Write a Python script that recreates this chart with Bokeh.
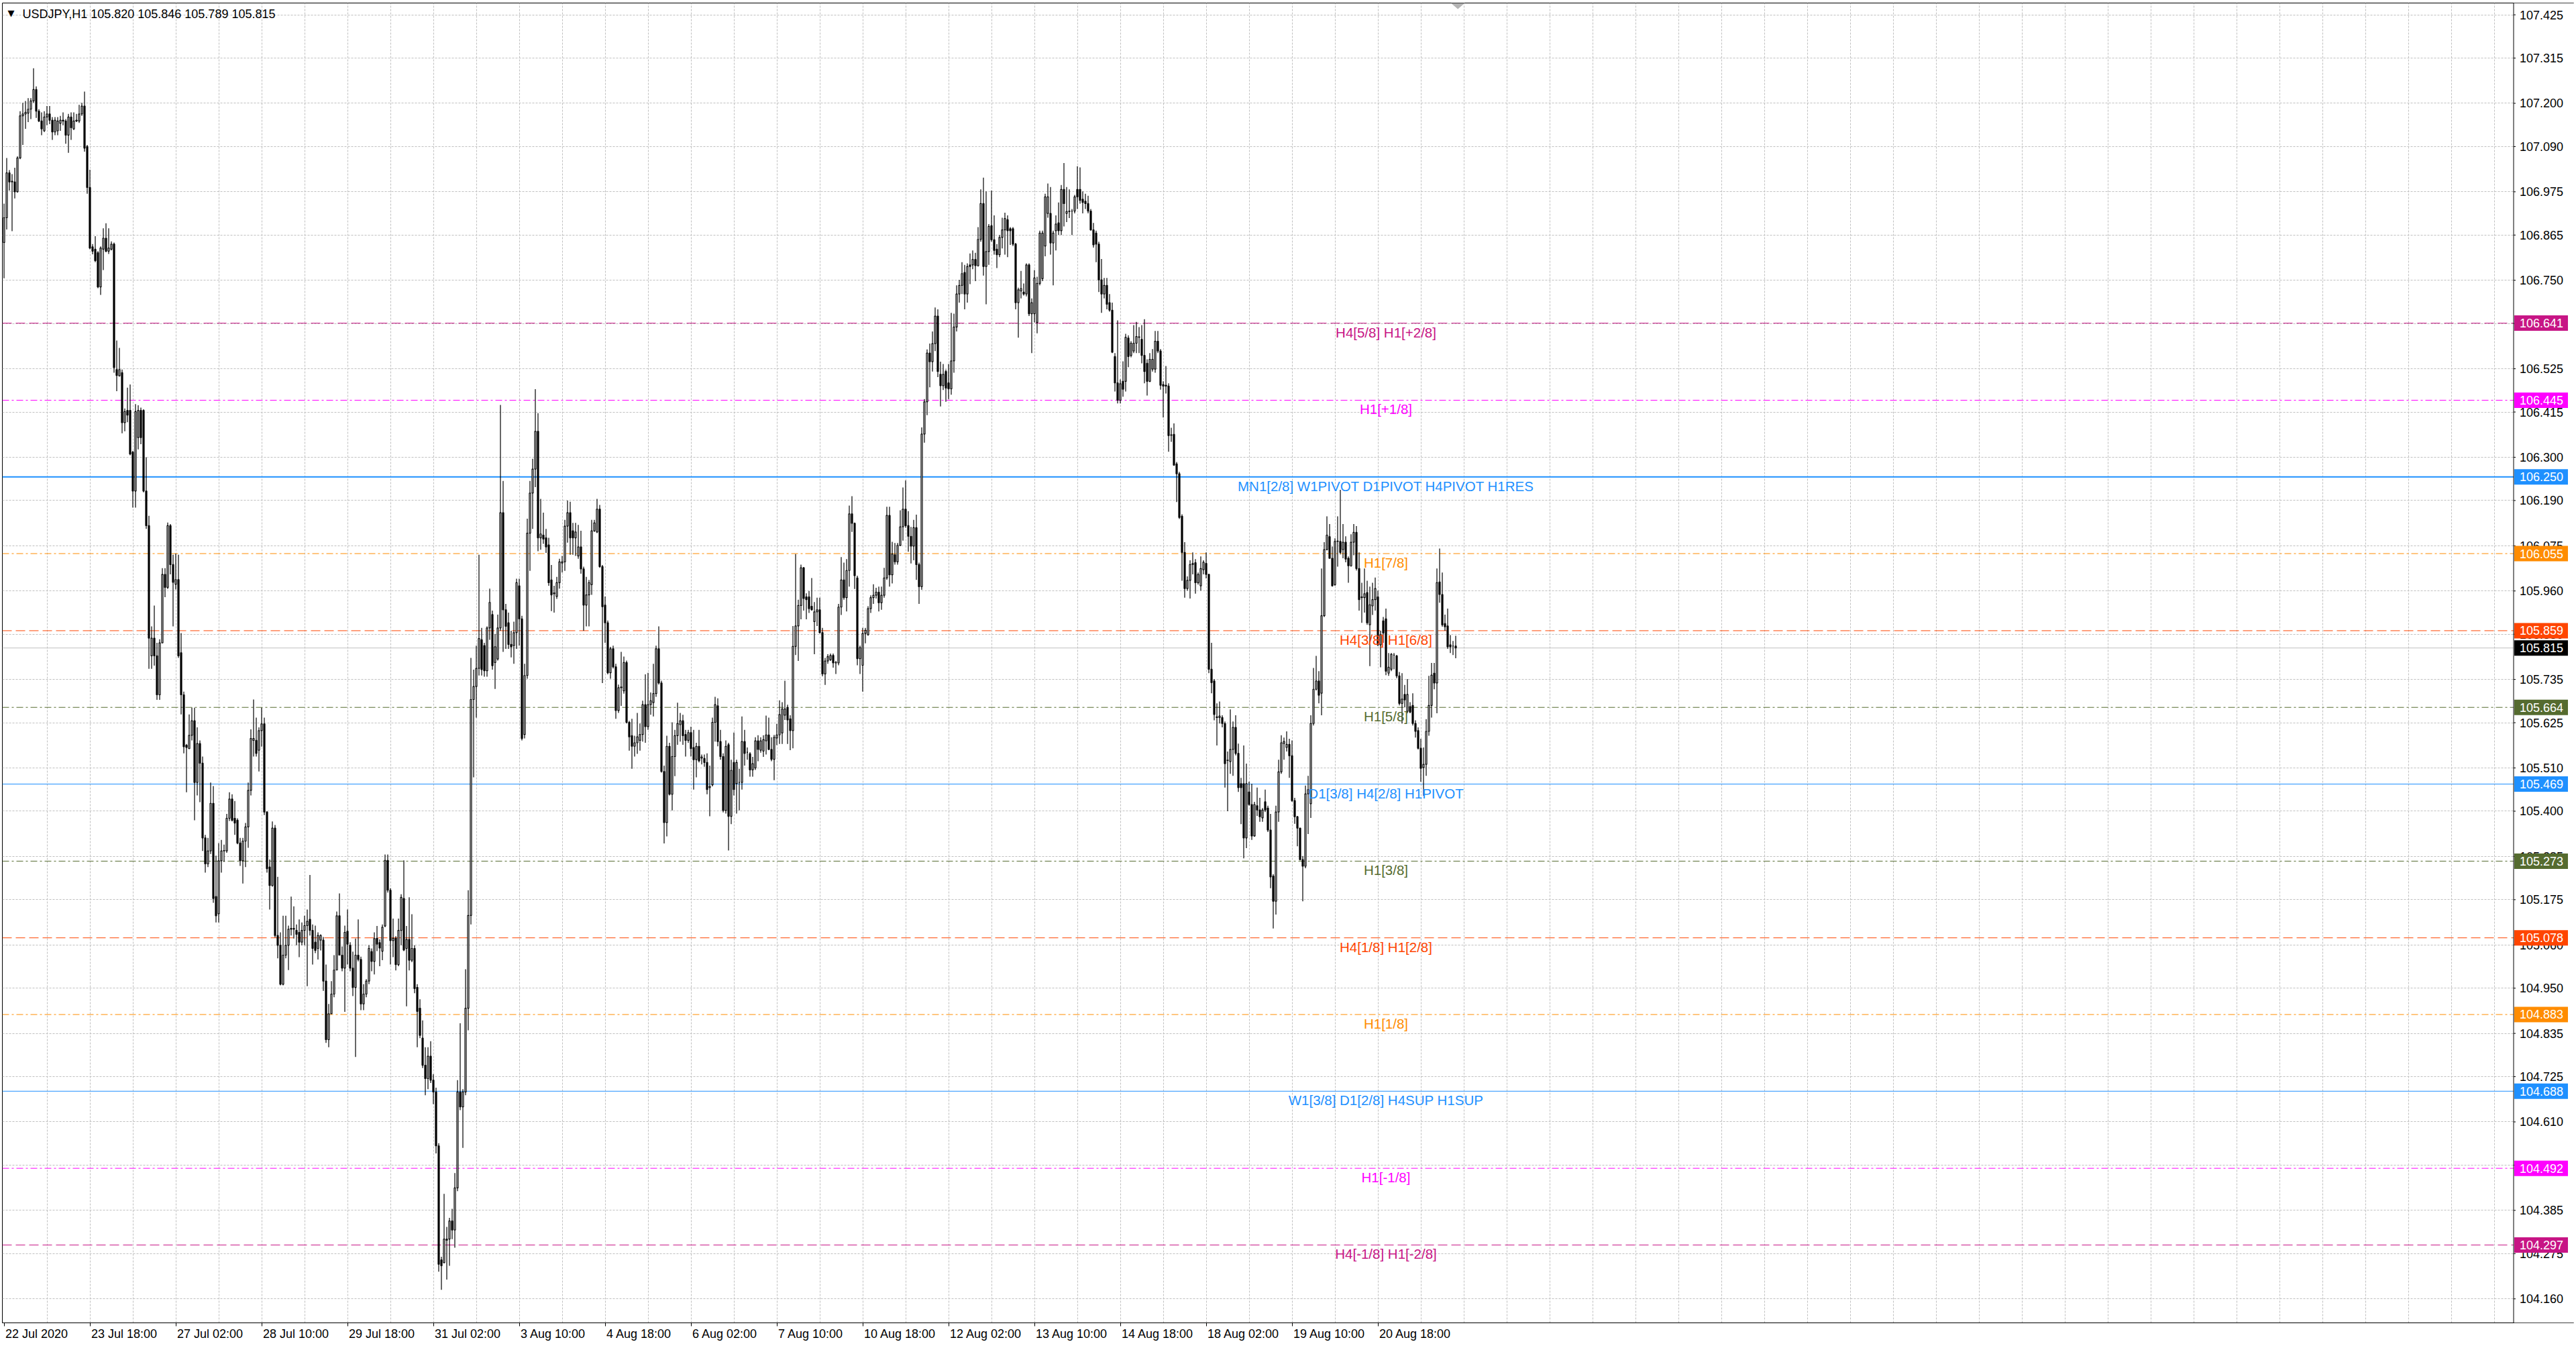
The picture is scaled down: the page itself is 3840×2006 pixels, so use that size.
from bokeh.plotting import figure
from bokeh.models import Range1d, FixedTicker, Span, LinearAxis, ColumnDataSource
from bokeh.core.properties import value
from bokeh.embed import file_html
from bokeh.resources import INLINE

# USDJPY H1, 22 Jul 2020 10:00 .. 21 Aug 2020 23:00 (one value per hourly bar)
opens = [
    106.846, 106.909, 107.023, 107.000, 107.000, 106.975, 107.061, 107.168, 107.173, 107.175,
    107.185, 107.206, 107.235, 107.180, 107.155, 107.130, 107.165, 107.173, 107.157, 107.127,
    107.130, 107.149, 107.157, 107.155, 107.119, 107.165, 107.135, 107.155, 107.155, 107.173,
    107.193, 107.090, 106.986, 106.835, 106.829, 106.820, 106.733, 106.829, 106.857, 106.824,
    106.829, 106.842, 106.523, 106.507, 106.515, 106.388, 106.419, 106.419, 106.313, 106.214,
    106.350, 106.419, 106.419, 106.214, 106.126, 105.795, 105.840, 105.795, 105.696, 105.828,
    106.002, 105.969, 106.126, 106.027, 105.977, 105.989, 105.803, 105.696, 105.568, 105.559,
    105.593, 105.630, 105.473, 105.572, 105.522, 105.332, 105.266, 105.299, 105.420, 105.183,
    105.139, 105.274, 105.299, 105.299, 105.382, 105.431, 105.382, 105.377, 105.319, 105.274,
    105.324, 105.360, 105.453, 105.580, 105.580, 105.555, 105.605, 105.622, 105.398, 105.258,
    105.211, 105.357, 105.084, 105.059, 104.960, 105.034, 105.059, 105.100, 105.102, 105.097,
    105.092, 105.067, 105.097, 105.109, 105.125, 105.097, 105.067, 105.051, 105.072, 105.072,
    104.968, 104.819, 104.885, 104.935, 104.996, 105.134, 105.034, 105.001, 105.095, 105.059,
    105.001, 104.952, 105.034, 105.023, 104.910, 104.935, 104.968, 105.043, 105.018,
    105.077, 105.066, 105.044, 105.108, 105.275, 105.199, 105.071, 105.077, 105.010, 105.097,
    105.178, 105.051, 105.074, 105.021, 105.051, 104.952, 104.899, 104.823, 104.754, 104.720,
    104.777, 104.716, 104.686, 104.549, 104.259, 104.252, 104.312, 104.312, 104.358, 104.335,
    104.442, 104.686, 104.648, 104.686, 104.899, 105.135, 105.684, 105.717, 105.763, 105.836,
    105.821, 105.757, 105.866, 105.900, 105.778, 105.787, 105.866, 106.159, 105.912, 105.879,
    105.824, 105.821, 105.854, 105.973, 105.889, 105.595, 105.745, 106.107, 106.209, 106.270,
    106.366, 106.095, 106.102, 106.095, 106.077, 105.988, 105.955, 105.946, 105.981, 106.031,
    106.034, 106.125, 106.159, 106.113, 106.095, 106.049, 106.072, 106.016, 105.924, 105.950,
    105.976, 106.113, 106.110, 106.168, 106.022, 105.924, 105.879, 105.752, 105.813, 105.767,
    105.656, 105.714, 105.706, 105.778, 105.626, 105.592, 105.565, 105.574, 105.580, 105.595,
    105.671, 105.615, 105.671, 105.676, 105.699, 105.813, 105.726, 105.501, 105.371, 105.565,
    105.443, 105.539, 105.592, 105.620, 105.630, 105.595, 105.580, 105.600, 105.562, 105.531,
    105.565, 105.535, 105.534, 105.524, 105.460, 105.467, 105.626, 105.668, 105.577, 105.539,
    105.402, 105.569, 105.387, 105.524, 105.470, 105.473, 105.473, 105.577, 105.550, 105.546,
    105.505, 105.510, 105.579, 105.555, 105.553, 105.579, 105.594, 105.557, 105.532, 105.586,
    105.594, 105.599, 105.644, 105.664, 105.635, 105.605, 105.819, 105.871, 105.923, 106.019,
    105.945, 105.945, 105.921, 105.882, 105.907, 105.912, 105.854, 105.749, 105.782, 105.785,
    105.796, 105.777, 105.777, 105.919, 105.988, 105.943, 106.012, 106.156, 106.132, 105.993,
    105.788, 105.771, 105.852, 105.849, 105.915, 105.943, 105.949, 105.957, 105.930, 105.949,
    105.993, 106.152, 106.001, 106.052, 106.034, 106.076, 106.123, 106.168, 106.126, 106.099,
    106.074, 106.121, 106.027, 105.971, 106.359, 106.441, 106.565, 106.543, 106.589, 106.659,
    106.511, 106.482, 106.518, 106.489, 106.474, 106.545, 106.631, 106.715, 106.737, 106.770,
    106.715, 106.789, 106.789, 106.803, 106.787, 106.854, 106.945, 106.785, 106.823, 106.889,
    106.853, 106.829, 106.815, 106.859, 106.878, 106.904, 106.881, 106.881, 106.842, 106.693,
    106.723, 106.720, 106.715, 106.789, 106.665, 106.665, 106.643, 106.742, 106.754, 106.837,
    106.920, 106.920, 106.845, 106.876, 106.896, 106.876, 106.981, 106.920, 106.926, 106.926,
    106.926, 106.981, 106.981, 106.956, 106.951, 106.945, 106.926, 106.878, 106.870, 106.842,
    106.751, 106.715, 106.737, 106.693, 106.674, 106.556, 106.489, 106.445, 106.493,
    106.493, 106.603, 106.559, 106.570, 106.590, 106.606, 106.600, 106.559, 106.539, 106.493,
    106.524, 106.524, 106.595, 106.570, 106.485, 106.481, 106.481, 106.357, 106.358, 106.283,
    106.258, 106.150, 106.058, 105.966, 105.987, 106.027, 106.032, 105.981, 105.973, 106.014,
    106.030, 106.002, 105.761, 105.731, 105.640, 105.638, 105.638, 105.623, 105.529, 105.526,
    105.557, 105.613, 105.547, 105.470, 105.470, 105.332, 105.449, 105.417, 105.337, 105.414,
    105.403, 105.383, 105.424, 105.408, 105.352, 105.235, 105.171, 105.398, 105.500, 105.572,
    105.562, 105.570, 105.541, 105.427, 105.386, 105.357, 105.277, 105.260, 105.444, 105.419,
    105.623, 105.710, 105.731, 105.700, 105.897, 106.065, 106.098, 106.043, 105.976, 106.086,
    106.086, 106.065, 106.084, 106.043, 106.024, 106.084, 106.109, 106.017, 105.945, 105.943,
    105.956, 105.874, 105.922, 105.938, 105.945, 105.823, 105.884, 105.889, 105.751, 105.761,
    105.797, 105.795, 105.744, 105.674, 105.697, 105.654, 105.666, 105.669, 105.623, 105.605,
    105.560, 105.511, 105.519, 105.603, 105.669, 105.751, 105.726, 105.983, 105.951, 105.877,
    105.871, 105.823, 105.820, 105.820,
]
highs = [
    106.945, 107.061, 107.030, 107.020, 107.036, 107.065, 107.180, 107.201, 107.206, 107.213,
    107.213, 107.289, 107.243, 107.185, 107.177, 107.180, 107.193, 107.193, 107.165, 107.165,
    107.165, 107.168, 107.177, 107.160, 107.173, 107.177, 107.177, 107.173, 107.196, 107.201,
    107.230, 107.094, 107.031, 106.842, 106.862, 106.824, 106.836, 106.882, 106.895, 106.882,
    106.849, 106.846, 106.597, 106.578, 106.523, 106.424, 106.477, 106.485, 106.316, 106.435,
    106.432, 106.426, 106.422, 106.300, 106.151, 105.870, 105.923, 105.828, 105.837, 106.018,
    106.018, 106.134, 106.130, 106.052, 106.055, 106.052, 105.853, 105.704, 105.571, 105.646,
    105.663, 105.663, 105.613, 105.580, 105.539, 105.340, 105.332, 105.473, 105.464, 105.287,
    105.319, 105.327, 105.315, 105.393, 105.448, 105.443, 105.426, 105.382, 105.332, 105.332,
    105.370, 105.473, 105.608, 105.684, 105.638, 105.613, 105.663, 105.638, 105.400, 105.277,
    105.374, 105.365, 105.233, 105.092, 105.134, 105.134, 105.109, 105.183, 105.158, 105.112,
    105.125, 105.117, 105.134, 105.150, 105.238, 105.112, 105.109, 105.092, 105.087, 105.080,
    105.010, 104.910, 104.968, 105.034, 105.145, 105.191, 105.056, 105.109, 105.150, 105.067,
    105.043, 105.076, 105.125, 105.030, 104.960, 104.973, 105.059, 105.051, 105.092,
    105.108, 105.074, 105.112, 105.290, 105.290, 105.204, 105.127, 105.082, 105.127, 105.189,
    105.275, 105.108, 105.181, 105.138, 105.059, 104.960, 104.922, 104.868, 104.800, 104.800,
    104.815, 104.731, 104.697, 104.556, 104.267, 104.427, 104.343, 104.366, 104.389, 104.480,
    104.716, 104.861, 104.693, 104.998, 105.199, 105.790, 105.760, 105.821, 106.052, 105.866,
    105.828, 105.870, 105.966, 105.910, 105.851, 105.900, 106.433, 106.240, 105.927, 105.905,
    105.859, 105.882, 105.991, 105.991, 105.897, 105.775, 106.144, 106.240, 106.296, 106.473,
    106.412, 106.194, 106.159, 106.118, 106.095, 106.026, 105.973, 105.996, 106.042, 106.049,
    106.141, 106.190, 106.187, 106.133, 106.133, 106.128, 106.113, 106.022, 105.996, 105.988,
    106.141, 106.141, 106.194, 106.179, 106.026, 105.946, 105.885, 105.818, 105.821, 105.775,
    105.722, 105.805, 105.793, 105.783, 105.630, 105.635, 105.592, 105.650, 105.623, 105.681,
    105.748, 105.752, 105.702, 105.775, 105.821, 105.870, 105.732, 105.516, 105.592, 105.574,
    105.626, 105.607, 105.676, 105.650, 105.645, 105.607, 105.607, 105.615, 105.607, 105.574,
    105.607, 105.544, 105.544, 105.547, 105.516, 105.638, 105.691, 105.687, 105.607, 105.547,
    105.580, 105.574, 105.531, 105.600, 105.531, 105.508, 105.641, 105.607, 105.562, 105.550,
    105.538, 105.588, 105.593, 105.588, 105.593, 105.643, 105.638, 105.588, 105.594, 105.622,
    105.682, 105.677, 105.732, 105.671, 105.644, 105.871, 106.054, 105.938, 106.027, 106.021,
    105.954, 105.960, 105.993, 105.932, 105.943, 105.943, 105.866, 105.790, 105.799, 105.801,
    105.801, 105.782, 105.927, 106.046, 106.032, 106.041, 106.177, 106.201, 106.134, 105.999,
    105.821, 105.866, 105.866, 105.921, 105.949, 105.977, 105.968, 105.971, 105.971, 106.019,
    106.174, 106.174, 106.085, 106.082, 106.082, 106.165, 106.223, 106.241, 106.163, 106.123,
    106.141, 106.154, 106.032, 106.376, 106.448, 106.574, 106.589, 106.620, 106.681, 106.676,
    106.543, 106.537, 106.523, 106.537, 106.667, 106.665, 106.737, 106.751, 106.796, 106.789,
    106.793, 106.818, 106.826, 106.820, 106.885, 106.981, 107.011, 106.976, 106.893, 106.978,
    106.915, 106.842, 106.865, 106.909, 106.922, 106.915, 106.885, 106.885, 106.845, 106.731,
    106.774, 106.742, 106.793, 106.793, 106.704, 106.776, 106.759, 106.876, 106.876, 106.970,
    106.996, 106.987, 106.876, 106.915, 106.948, 106.992, 107.048, 106.987, 106.981, 106.931,
    106.967, 107.040, 107.037, 106.976, 106.970, 106.965, 106.931, 106.896, 106.876, 106.848,
    106.804, 106.756, 106.756, 106.715, 106.693, 106.565, 106.648, 106.498, 106.544,
    106.614, 106.610, 106.595, 106.636, 106.644, 106.631, 106.636, 106.651, 106.549, 106.565,
    106.575, 106.621, 106.621, 106.575, 106.493, 106.532, 106.488, 106.375, 106.386, 106.288,
    106.263, 106.155, 106.084, 105.997, 106.038, 106.058, 106.041, 106.007, 106.048, 106.038,
    106.058, 106.004, 105.828, 105.736, 105.674, 105.679, 105.644, 105.628, 105.552, 105.659,
    105.628, 105.644, 105.572, 105.485, 105.567, 105.521, 105.475, 105.470, 105.424, 105.460,
    105.434, 105.408, 105.455, 105.414, 105.393, 105.240, 105.414, 105.531, 105.593, 105.587,
    105.603, 105.584, 105.580, 105.434, 105.388, 105.357, 105.286, 105.465, 105.490, 105.644,
    105.764, 105.795, 105.756, 106.017, 106.084, 106.150, 106.130, 106.073, 106.094, 106.150,
    106.217, 106.130, 106.099, 106.048, 106.104, 106.130, 106.125, 106.058, 105.981, 106.017,
    105.986, 105.971, 105.981, 105.994, 105.961, 105.859, 105.894, 105.915, 105.802, 105.802,
    105.802, 105.797, 105.754, 105.751, 105.721, 105.736, 105.677, 105.700, 105.631, 105.613,
    105.584, 105.562, 105.634, 105.744, 105.777, 105.777, 106.017, 106.068, 106.007, 105.900,
    105.915, 105.848, 105.833, 105.846,
]
lows = [
    106.755, 106.879, 106.978, 106.875, 106.958, 106.973, 107.058, 107.094, 107.135, 107.152,
    107.160, 107.201, 107.163, 107.152, 107.119, 107.127, 107.144, 107.147, 107.107, 107.119,
    107.119, 107.130, 107.144, 107.097, 107.074, 107.107, 107.132, 107.152, 107.150, 107.168,
    107.077, 106.970, 106.829, 106.816, 106.796, 106.730, 106.713, 106.776, 106.821, 106.817,
    106.826, 106.515, 106.468, 106.505, 106.361, 106.366, 106.389, 106.305, 106.172, 106.172,
    106.320, 106.333, 106.211, 106.118, 105.762, 105.762, 105.770, 105.683, 105.683, 105.828,
    105.944, 105.965, 106.002, 105.870, 105.964, 105.790, 105.646, 105.547, 105.448, 105.558,
    105.580, 105.377, 105.440, 105.423, 105.299, 105.244, 105.258, 105.291, 105.167, 105.117,
    105.117, 105.244, 105.271, 105.294, 105.375, 105.374, 105.340, 105.316, 105.261, 105.216,
    105.258, 105.307, 105.440, 105.539, 105.539, 105.501, 105.564, 105.390, 105.244, 105.150,
    105.208, 105.079, 105.026, 104.957, 104.957, 105.026, 104.996, 105.084, 105.076, 105.059,
    105.029, 105.059, 105.059, 104.955, 105.084, 105.010, 105.039, 105.023, 105.046, 104.943,
    104.811, 104.800, 104.885, 104.927, 104.996, 105.034, 104.993, 104.890, 105.010, 104.993,
    104.930, 104.775, 105.018, 104.894, 104.894, 104.927, 104.960, 104.993, 104.985,
    105.044, 105.006, 105.021, 105.105, 105.193, 105.010, 105.029, 104.995, 105.006, 105.059,
    105.044, 104.904, 104.995, 105.016, 104.937, 104.800, 104.823, 104.747, 104.678, 104.693,
    104.709, 104.655, 104.530, 104.229, 104.183, 104.251, 104.209, 104.244, 104.312, 104.290,
    104.434, 104.640, 104.544, 104.678, 104.843, 105.112, 105.486, 105.638, 105.745, 105.745,
    105.742, 105.742, 105.836, 105.760, 105.711, 105.783, 105.859, 105.805, 105.813, 105.813,
    105.791, 105.775, 105.813, 105.821, 105.580, 105.585, 105.737, 106.011, 106.118, 106.224,
    106.061, 106.065, 106.080, 106.057, 105.973, 105.909, 105.905, 105.940, 105.966, 106.007,
    106.011, 106.083, 106.052, 106.052, 106.049, 106.042, 106.004, 105.859, 105.870, 105.870,
    105.950, 106.110, 106.107, 106.019, 105.726, 105.828, 105.748, 105.737, 105.763, 105.635,
    105.650, 105.668, 105.699, 105.623, 105.554, 105.508, 105.539, 105.546, 105.554, 105.577,
    105.574, 105.607, 105.645, 105.641, 105.691, 105.722, 105.498, 105.318, 105.336, 105.440,
    105.402, 105.489, 105.569, 105.577, 105.569, 105.539, 105.574, 105.539, 105.455, 105.486,
    105.524, 105.519, 105.513, 105.443, 105.387, 105.463, 105.577, 105.565, 105.531, 105.397,
    105.394, 105.300, 105.367, 105.440, 105.394, 105.402, 105.455, 105.516, 105.531, 105.488,
    105.488, 105.505, 105.527, 105.549, 105.538, 105.544, 105.555, 105.527, 105.479, 105.568,
    105.571, 105.571, 105.632, 105.571, 105.555, 105.560, 105.797, 105.782, 105.888, 105.910,
    105.888, 105.904, 105.910, 105.799, 105.871, 105.852, 105.743, 105.721, 105.775, 105.782,
    105.765, 105.749, 105.771, 105.899, 105.938, 105.908, 105.971, 106.110, 105.965, 105.771,
    105.749, 105.704, 105.827, 105.846, 105.904, 105.927, 105.941, 105.908, 105.912, 105.943,
    105.988, 105.971, 105.979, 106.027, 106.027, 106.074, 106.088, 106.121, 106.060, 106.030,
    106.038, 105.988, 105.927, 105.963, 106.337, 106.407, 106.478, 106.518, 106.570, 106.504,
    106.429, 106.471, 106.441, 106.448, 106.459, 106.515, 106.620, 106.693, 106.715, 106.676,
    106.693, 106.740, 106.778, 106.748, 106.785, 106.848, 106.762, 106.689, 106.789, 106.848,
    106.815, 106.781, 106.809, 106.831, 106.815, 106.809, 106.840, 106.837, 106.676, 106.604,
    106.704, 106.711, 106.709, 106.659, 106.565, 106.643, 106.615, 106.737, 106.748, 106.811,
    106.909, 106.815, 106.737, 106.826, 106.865, 106.865, 106.887, 106.898, 106.908, 106.865,
    106.920, 106.931, 106.945, 106.920, 106.931, 106.920, 106.876, 106.833, 106.796, 106.720,
    106.667, 106.704, 106.676, 106.670, 106.565, 106.467, 106.437, 106.437, 106.454,
    106.467, 106.529, 106.554, 106.565, 106.565, 106.565, 106.539, 106.488, 106.457, 106.491,
    106.518, 106.515, 106.565, 106.472, 106.401, 106.462, 106.314, 106.339, 106.278, 106.186,
    106.143, 105.986, 105.943, 105.961, 105.941, 106.002, 105.953, 105.976, 105.961, 106.002,
    105.992, 105.751, 105.700, 105.631, 105.567, 105.623, 105.613, 105.460, 105.400, 105.495,
    105.490, 105.542, 105.449, 105.367, 105.280, 105.306, 105.414, 105.327, 105.335, 105.388,
    105.373, 105.373, 105.398, 105.347, 105.204, 105.102, 105.137, 105.373, 105.495, 105.531,
    105.552, 105.485, 105.424, 105.368, 105.311, 105.275, 105.171, 105.255, 105.342, 105.383,
    105.618, 105.707, 105.674, 105.644, 105.894, 106.063, 106.043, 105.971, 105.973, 106.022,
    106.053, 106.043, 106.033, 105.981, 106.022, 106.051, 106.012, 105.910, 105.879, 105.905,
    105.874, 105.769, 105.899, 105.910, 105.820, 105.766, 105.828, 105.746, 105.744, 105.756,
    105.761, 105.738, 105.669, 105.623, 105.664, 105.649, 105.649, 105.618, 105.587, 105.557,
    105.475, 105.439, 105.490, 105.592, 105.638, 105.710, 105.649, 105.930, 105.869, 105.859,
    105.813, 105.802, 105.797, 105.789,
]
closes = [
    106.909, 107.023, 107.000, 107.002, 106.975, 107.061, 107.168, 107.173, 107.177, 107.185,
    107.206, 107.235, 107.180, 107.155, 107.135, 107.165, 107.173, 107.157, 107.127, 107.157,
    107.155, 107.157, 107.155, 107.119, 107.165, 107.138, 107.155, 107.157, 107.173, 107.193,
    107.086, 106.986, 106.832, 106.824, 106.800, 106.733, 106.832, 106.857, 106.824, 106.832,
    106.842, 106.528, 106.508, 106.523, 106.388, 106.416, 106.407, 106.308, 106.214, 106.416,
    106.419, 106.350, 106.214, 106.126, 105.840, 105.840, 105.795, 105.696, 105.828, 106.002,
    105.969, 106.126, 106.027, 105.982, 105.989, 105.795, 105.696, 105.564, 105.562, 105.593,
    105.630, 105.473, 105.572, 105.522, 105.332, 105.266, 105.299, 105.420, 105.178, 105.134,
    105.274, 105.299, 105.300, 105.382, 105.431, 105.377, 105.370, 105.319, 105.274, 105.324,
    105.360, 105.453, 105.585, 105.585, 105.547, 105.605, 105.622, 105.398, 105.254, 105.211,
    105.357, 105.084, 105.059, 104.960, 105.034, 105.059, 105.100, 105.102, 105.100, 105.087,
    105.067, 105.097, 105.109, 105.120, 105.097, 105.051, 105.046, 105.084, 105.084, 104.968,
    104.819, 104.885, 104.935, 104.996, 105.134, 105.034, 105.001, 105.092, 105.062, 105.001,
    104.952, 105.034, 105.023, 104.910, 104.935, 104.968, 105.051, 105.018, 105.076,
    105.062, 105.052, 105.105, 105.275, 105.199, 105.071, 105.077, 105.010, 105.097, 105.181,
    105.047, 105.074, 105.021, 105.051, 104.949, 104.891, 104.830, 104.754, 104.720, 104.777,
    104.716, 104.686, 104.549, 104.248, 104.244, 104.312, 104.309, 104.358, 104.335, 104.442,
    104.686, 104.648, 104.686, 104.899, 105.135, 105.684, 105.717, 105.763, 105.839, 105.760,
    105.757, 105.866, 105.931, 105.770, 105.818, 105.866, 106.159, 105.912, 105.870, 105.824,
    105.818, 105.854, 105.981, 105.889, 105.585, 105.745, 106.107, 106.209, 106.270, 106.366,
    106.095, 106.105, 106.092, 106.072, 105.981, 105.950, 105.953, 105.981, 106.034, 106.034,
    106.125, 106.159, 106.095, 106.095, 106.110, 106.072, 106.016, 105.924, 105.950, 105.981,
    106.113, 106.133, 106.168, 106.022, 105.920, 105.879, 105.752, 105.813, 105.767, 105.656,
    105.714, 105.716, 105.778, 105.626, 105.589, 105.565, 105.574, 105.589, 105.595, 105.671,
    105.615, 105.671, 105.681, 105.699, 105.813, 105.726, 105.501, 105.371, 105.565, 105.443,
    105.539, 105.592, 105.623, 105.630, 105.592, 105.580, 105.600, 105.559, 105.531, 105.565,
    105.528, 105.538, 105.524, 105.455, 105.463, 105.626, 105.671, 105.577, 105.539, 105.402,
    105.565, 105.387, 105.504, 105.455, 105.524, 105.473, 105.577, 105.547, 105.550, 105.505,
    105.521, 105.579, 105.557, 105.579, 105.582, 105.594, 105.557, 105.532, 105.588, 105.594,
    105.646, 105.660, 105.660, 105.632, 105.605, 105.819, 105.871, 105.923, 106.019, 105.941,
    105.938, 105.915, 105.912, 105.907, 105.912, 105.854, 105.749, 105.782, 105.793, 105.796,
    105.777, 105.778, 105.919, 105.988, 105.943, 106.012, 106.156, 106.132, 105.999, 105.788,
    105.816, 105.852, 105.860, 105.915, 105.943, 105.949, 105.957, 105.930, 105.949, 105.993,
    106.152, 106.001, 106.054, 106.034, 106.076, 106.123, 106.168, 106.126, 106.099, 106.074,
    106.121, 106.027, 105.971, 106.359, 106.441, 106.565, 106.543, 106.589, 106.659, 106.518,
    106.482, 106.511, 106.476, 106.474, 106.545, 106.631, 106.715, 106.737, 106.767, 106.715,
    106.785, 106.785, 106.803, 106.787, 106.854, 106.945, 106.785, 106.823, 106.887, 106.853,
    106.826, 106.815, 106.859, 106.878, 106.907, 106.876, 106.876, 106.842, 106.693, 106.726,
    106.729, 106.715, 106.789, 106.665, 106.693, 106.756, 106.742, 106.870, 106.870, 106.962,
    106.962, 106.845, 106.870, 106.893, 106.876, 106.981, 106.945, 106.925, 106.925, 106.926,
    106.962, 106.962, 106.953, 106.948, 106.945, 106.926, 106.878, 106.840, 106.842, 106.751,
    106.715, 106.737, 106.689, 106.674, 106.567, 106.489, 106.445, 106.487, 106.473,
    106.605, 106.556, 106.590, 106.590, 106.607, 106.605, 106.559, 106.518, 106.493, 106.549,
    106.549, 106.595, 106.570, 106.483, 106.481, 106.483, 106.355, 106.356, 106.280, 106.258,
    106.147, 106.058, 105.966, 105.987, 106.027, 106.030, 105.981, 106.002, 106.017, 106.033,
    106.002, 105.761, 105.727, 105.646, 105.638, 105.642, 105.623, 105.521, 105.530, 105.557,
    105.613, 105.547, 105.460, 105.460, 105.332, 105.470, 105.417, 105.337, 105.417, 105.403,
    105.386, 105.403, 105.403, 105.352, 105.233, 105.171, 105.398, 105.500, 105.574, 105.577,
    105.570, 105.541, 105.427, 105.386, 105.357, 105.277, 105.260, 105.444, 105.455, 105.623,
    105.710, 105.731, 105.695, 105.897, 106.065, 106.102, 106.043, 105.973, 106.086, 106.087,
    106.058, 106.084, 106.041, 106.024, 106.084, 106.109, 106.017, 105.938, 105.943, 105.953,
    105.879, 105.925, 105.938, 105.966, 105.823, 105.849, 105.853, 105.756, 105.766, 105.799,
    105.797, 105.744, 105.674, 105.685, 105.683, 105.697, 105.652, 105.623, 105.603, 105.560,
    105.509, 105.519, 105.603, 105.669, 105.746, 105.726, 105.981, 105.951, 105.874, 105.869,
    105.818, 105.818, 105.820, 105.815,
]

# time axis labels (every 32 bars)
date_bars = [0, 32, 64, 96, 128, 160, 192, 224, 256, 288, 320, 352, 384, 416, 448, 480, 512]
date_labels = ["22 Jul 2020", "23 Jul 18:00", "27 Jul 02:00", "28 Jul 10:00", "29 Jul 18:00",
               "31 Jul 02:00", "3 Aug 10:00", "4 Aug 18:00", "6 Aug 02:00", "7 Aug 10:00",
               "10 Aug 18:00", "12 Aug 02:00", "13 Aug 10:00", "14 Aug 18:00", "18 Aug 02:00",
               "19 Aug 10:00", "20 Aug 18:00"]

price_ticks = [104.160, 104.275, 104.385, 104.500, 104.610, 104.725, 104.835, 104.950, 105.060,
               105.175, 105.285, 105.400, 105.510, 105.625, 105.735, 105.850, 105.960, 106.075,
               106.190, 106.300, 106.415, 106.525, 106.640, 106.750, 106.865, 106.975, 107.090,
               107.200, 107.315, 107.425]

# Murrey math levels
level_prices = [106.641, 106.445, 106.250, 106.055, 105.859, 105.664, 105.469, 105.273,
                105.078, 104.883, 104.688, 104.492, 104.297]
level_names = ["H4[5/8] H1[+2/8]", "H1[+1/8]", "MN1[2/8] W1PIVOT D1PIVOT H4PIVOT H1RES",
               "H1[7/8]", "H4[3/8] H1[6/8]", "H1[5/8]", "D1[3/8] H4[2/8] H1PIVOT", "H1[3/8]",
               "H4[1/8] H1[2/8]", "H1[1/8]", "W1[3/8] D1[2/8] H4SUP H1SUP", "H1[-1/8]",
               "H4[-1/8] H1[-2/8]"]
level_colors = ["#C71585", "#FF00FF", "#1E90FF", "#FF8C00", "#FF4500", "#556B2F", "#1E90FF",
                "#556B2F", "#FF4500", "#FF8C00", "#1E90FF", "#FF00FF", "#C71585"]
level_dashes = ["14 6", "10 4 3 4", "solid", "10 4 3 4", "14 6", "10 4 3 4", "solid",
                "10 4 3 4", "14 6", "10 4 3 4", "solid", "10 4 3 4", "14 6"]
level_widths = [1, 1, 2, 1, 1, 1, 1, 1, 1, 1, 1, 1, 1]

symbol = "USDJPY,H1"
bid = 105.815

FONT = "Liberation Sans"
PX = 4.0                       # screen pixels per bar
X_START = -0.625
AXIS_X = X_START + 935.875     # price scale line
X_END = X_START + 958.5        # frame also holds the price scale strip
Y_START, Y_END = 104.099, 107.455
PX_PER_PRICE = 1967 / (Y_END - Y_START)
LABEL_BAR = 515

# rough Liberation Sans advance widths (em) for placing left-aligned date labels
CHAR_EM = {" ": 0.278, ":": 0.278, "J": 0.5, "l": 0.222, "A": 0.667}


def text_px(s, size=18):
    return sum(CHAR_EM.get(ch, 0.556) for ch in s) * size


assert len(opens) == len(highs) == len(lows) == len(closes)
n = len(closes)
src = ColumnDataSource(dict(
    x=list(range(n)),
    high=highs,
    low=lows,
    top=[max(o, c) for o, c in zip(opens, closes)],
    bottom=[min(o, c) for o, c in zip(opens, closes)],
    fill=["white" if c >= o else "black" for o, c in zip(opens, closes)],
))

p = figure(frame_width=3834, frame_height=1967,
           x_range=Range1d(X_START, X_END), y_range=Range1d(Y_START, Y_END),
           y_axis_location=None, output_backend="svg", toolbar_location=None,
           min_border_left=3, min_border_top=4, min_border_right=0, min_border_bottom=33,
           background_fill_color="white", border_fill_color="white",
           outline_line_color="black")

# grid
p.xgrid.ticker = FixedTicker(ticks=list(range(16, 936, 16)))
p.ygrid.ticker = FixedTicker(ticks=price_ticks)
p.grid.grid_line_color = "#C0C0C0"
p.grid.grid_line_dash = "3 2"

# time axis: tick marks
xa = p.xaxis[0]
xa.ticker = FixedTicker(ticks=date_bars)
xa.major_label_overrides = {b: "" for b in date_bars}
xa.major_label_text_font_size = "0px"
xa.major_label_standoff = 0
xa.major_tick_out = 5
xa.major_tick_in = 0
xa.minor_tick_out = 0
xa.minor_tick_in = 0
xa.axis_line_color = "black"
xa.bounds = (X_START, AXIS_X)

# time axis: labels, shifted so that each starts just right of its tick
shifted = [round(b + (text_px(lab) / 2 + 2) / PX, 3) for b, lab in zip(date_bars, date_labels)]
la = LinearAxis(ticker=FixedTicker(ticks=shifted),
                major_label_overrides=dict(zip(shifted, date_labels)),
                axis_line_color=None, major_tick_line_color=None, minor_tick_line_color=None,
                major_tick_out=0, major_tick_in=0, minor_tick_out=0, minor_tick_in=0,
                major_label_standoff=1, major_label_text_font=FONT,
                major_label_text_font_size="18px", major_label_text_color="black")
p.add_layout(la, "below")

# levels
for price, col, dash, w in zip(level_prices, level_colors, level_dashes, level_widths):
    p.add_layout(Span(location=price, dimension="width", line_color=col,
                      line_dash=dash, line_width=w, level="underlay"))
p.add_layout(Span(location=bid, dimension="width", line_color="#C0C0C0",
                  line_width=1, level="underlay"))

# candles
p.segment(x0="x", y0="high", x1="x", y1="low", source=src, line_color="black", line_width=1.2)
p.vbar(x="x", width=0.5, top="top", bottom="bottom", source=src,
       fill_color="fill", line_color="black", line_width=1.2)

# level names
p.text(x=[LABEL_BAR] * len(level_prices), y=level_prices, text=level_names,
       text_color=level_colors, text_align="center", text_baseline="top", y_offset=2,
       text_font=value(FONT), text_font_size=value("20.5px"))

# header
header = "%s  %.3f %.3f %.3f %.3f" % (symbol, opens[-1], highs[-1], lows[-1], closes[-1])
p.text(x=[X_START], y=[Y_END], text=["\u25bc"], x_offset=8, y_offset=15,
       text_baseline="middle", text_font=value("DejaVu Sans"),
       text_font_size=value("13px"), text_color="black")
p.text(x=[X_START], y=[Y_END], text=[header], x_offset=30, y_offset=16,
       text_baseline="middle", text_font=value(FONT),
       text_font_size=value("18px"), text_color="black")

# chart shift marker at the top edge, just after the last bar
shift_x = n - 1 + 0.8
p.patch(x=[shift_x - 10.5 / PX, shift_x + 10.5 / PX, shift_x],
        y=[Y_END, Y_END, Y_END - 9 / PX_PER_PRICE],
        fill_color="#B4B4B4", line_color=None)

# price scale strip on the right
p.quad(left=[AXIS_X], right=[X_END], bottom=[Y_START], top=[Y_END],
       fill_color="white", line_color=None)
p.segment(x0=[AXIS_X] * len(price_ticks), y0=price_ticks,
          x1=[AXIS_X + 3 / PX] * len(price_ticks), y1=price_ticks,
          line_color="black", line_width=1)
p.text(x=[AXIS_X] * len(price_ticks), y=price_ticks, text=["%.3f" % t for t in price_ticks],
       x_offset=9, text_baseline="middle", text_align="left", text_color="black",
       text_font=value(FONT), text_font_size=value("18px"))
p.add_layout(Span(location=AXIS_X, dimension="height", line_color="black", line_width=1))

# price tags
tag_prices = level_prices + [bid]
tag_colors = level_colors + ["#000000"]
p.rect(x=[AXIS_X + 41 / PX] * len(tag_prices), y=tag_prices, width=80, height=23,
       width_units="screen", height_units="screen", fill_color=tag_colors, line_color=None)
p.text(x=[AXIS_X] * len(tag_prices), y=tag_prices, text=["%.3f" % t for t in tag_prices],
       x_offset=9, text_baseline="middle", text_align="left", text_color="white",
       text_font=value(FONT), text_font_size=value("18px"))

open("out.html", "w").write(file_html(p, INLINE))
